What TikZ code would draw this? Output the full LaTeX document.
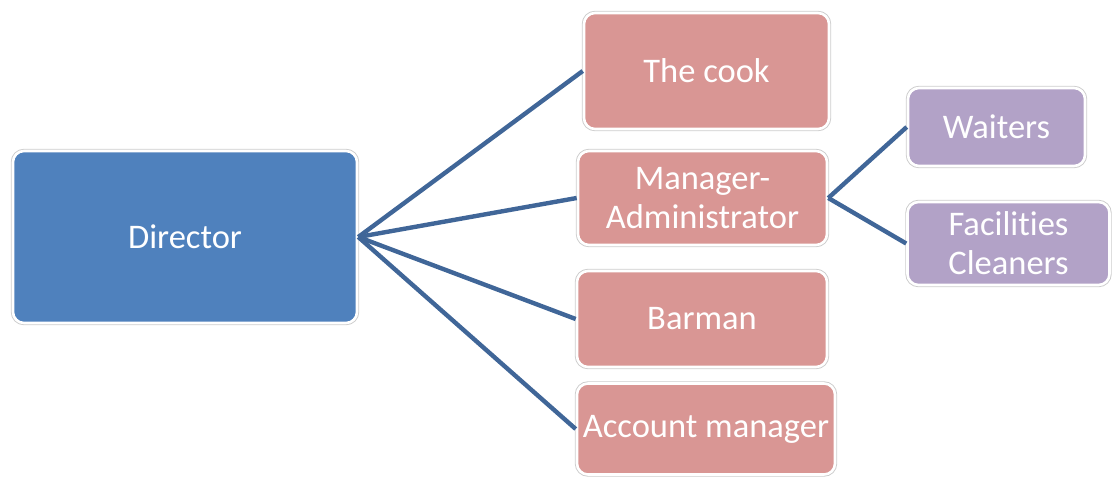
\documentclass[tikz,border=0pt]{standalone}
\usepackage{fontspec}
\setmainfont{Carlito}[Ligatures={NoCommon}]
\definecolor{dirblue}{RGB}{79,129,189}
\definecolor{staffpink}{RGB}{217,150,148}
\definecolor{subpurple}{RGB}{178,162,199}
\definecolor{linkblue}{RGB}{64,102,152}
\begin{document}
\begin{tikzpicture}[x=1pt,y=-1pt,
  orgbox/.style={rectangle, rounded corners=11pt, draw=white, line width=2.6pt,
    preaction={draw=gray!40, line width=4.4pt},
    text=white, align=center, inner sep=0pt,
    font=\fontsize{34.5}{39}\selectfont},
  link/.style={draw=linkblue, line width=4.4pt}]
\useasboundingbox (0,0) rectangle (1112,477);
% top level
\node[orgbox, fill=dirblue, minimum width=344pt, minimum height=172pt] (dir) at (185,237) {Director};
% staff reporting to the director
\node[orgbox, fill=staffpink, minimum width=245pt, minimum height=116pt] (cook) at (706.5,71) {The cook};
\node[orgbox, fill=staffpink, minimum width=249pt, minimum height=94pt] (mgr) at (702.5,198) {Manager-\\Administrator};
\node[orgbox, fill=staffpink, minimum width=250pt, minimum height=96pt] (bar) at (702,319) {Barman};
\node[orgbox, fill=staffpink, minimum width=258pt, minimum height=91pt] (acc) at (706,429) {Account manager};
% staff reporting to the manager
\node[orgbox, fill=subpurple, minimum width=177pt, minimum height=78pt] (wait) at (996.5,127) {Waiters};
\node[orgbox, fill=subpurple, minimum width=202pt, minimum height=83pt] (clean) at (1008.5,243.5) {Facilities\\Cleaners};
% connectors
\draw[link] (dir.east) -- (cook.west);
\draw[link] (dir.east) -- (mgr.west);
\draw[link] (dir.east) -- (bar.west);
\draw[link] (dir.east) -- (acc.west);
\draw[link] (mgr.east) -- (wait.west);
\draw[link] (mgr.east) -- (clean.west);
\end{tikzpicture}
\end{document}
